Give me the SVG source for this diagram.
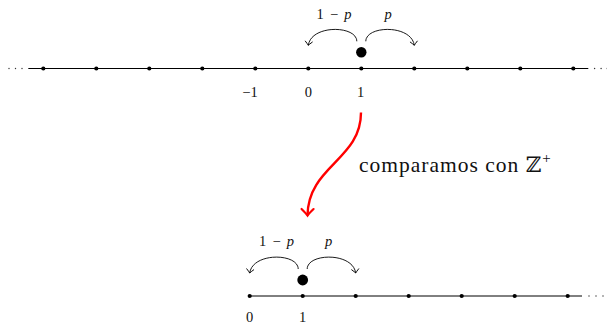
<svg xmlns="http://www.w3.org/2000/svg" width="607" height="324" viewBox="0 0 607 324">
<style>
  .axis { stroke: #000; stroke-width: 1; fill: none; }
  .pt { fill: #000; }
  .ell { fill: #333; }
  .num { font-family: "Liberation Serif", "DejaVu Serif", serif; font-size: 14.5px; fill: #111; text-anchor: middle; }
  .prob { font-family: "Liberation Serif", "DejaVu Serif", serif; font-size: 14.5px; fill: #111; text-anchor: middle; }
  .it { font-style: italic; }
  .jump { stroke: #000; stroke-width: 0.9; fill: none; marker-end: url(#to); }
  .red { stroke: #ff0000; stroke-width: 2.4; fill: none; marker-end: url(#tored); }
  .cap { font-family: "Liberation Serif", "DejaVu Serif", serif; font-size: 21.5px; letter-spacing: 1px; fill: #111; }
</style>
<defs>
  <marker id="to" markerUnits="userSpaceOnUse" markerWidth="12" markerHeight="12" viewBox="-6 -6 12 12" refX="0" refY="0" orient="auto">
    <path d="M-4,-3.8 Q-1.2,-0.9 0,0 Q-1.2,0.9 -4,3.8" fill="none" stroke="#000" stroke-width="0.9"/>
  </marker>
  <marker id="tored" markerUnits="userSpaceOnUse" markerWidth="16" markerHeight="16" viewBox="-8 -8 16 16" refX="0" refY="0" orient="auto">
    <path d="M-6.5,-6 Q-2,-1.4 0,0 Q-2,1.4 -6.5,6" fill="none" stroke="#ff0000" stroke-width="2.2" stroke-linecap="round"/>
  </marker>
</defs>

<g id="top-line">
  <line class="axis" x1="28.3" y1="68.5" x2="588.3" y2="68.5"/>
  <circle class="ell" cx="9" cy="68.5" r="0.7"/>
  <circle class="ell" cx="15.5" cy="68.5" r="0.7"/>
  <circle class="ell" cx="22" cy="68.5" r="0.7"/>
  <circle class="ell" cx="594.6" cy="68.5" r="0.7"/>
  <circle class="ell" cx="601.1" cy="68.5" r="0.7"/>
  <circle class="ell" cx="607.3" cy="68.5" r="0.7"/>
  <circle class="pt" cx="43.3" cy="68.5" r="2.1"/>
  <circle class="pt" cx="96.3" cy="68.5" r="2.1"/>
  <circle class="pt" cx="149.3" cy="68.5" r="2.1"/>
  <circle class="pt" cx="202.3" cy="68.5" r="2.1"/>
  <circle class="pt" cx="255.3" cy="68.5" r="2.1"/>
  <circle class="pt" cx="308.3" cy="68.5" r="2.1"/>
  <circle class="pt" cx="361.3" cy="68.5" r="2.1"/>
  <circle class="pt" cx="414.3" cy="68.5" r="2.1"/>
  <circle class="pt" cx="467.3" cy="68.5" r="2.1"/>
  <circle class="pt" cx="520.3" cy="68.5" r="2.1"/>
  <circle class="pt" cx="573.3" cy="68.5" r="2.1"/>
  <text class="num" x="250" y="96.5">−1</text>
  <text class="num" x="308.3" y="96.5">0</text>
  <text class="num" x="360.5" y="96.5">1</text>
</g>

<g id="top-walker">
  <circle class="pt" cx="361.3" cy="52.3" r="5.2"/>
  <text class="prob" x="334" y="18.5" textLength="35" lengthAdjust="spacing">1 − <tspan class="it">p</tspan></text>
  <text class="prob it" x="388" y="18.5">p</text>
</g>

<g id="bottom-line">
  <line class="axis" x1="249.7" y1="296" x2="582" y2="296"/>
  <circle class="ell" cx="589" cy="296" r="0.7"/>
  <circle class="ell" cx="596" cy="296" r="0.7"/>
  <circle class="ell" cx="603" cy="296" r="0.7"/>
  <circle class="pt" cx="249.7" cy="296" r="2.1"/>
  <circle class="pt" cx="302.7" cy="296" r="2.1"/>
  <circle class="pt" cx="355.7" cy="296" r="2.1"/>
  <circle class="pt" cx="408.7" cy="296" r="2.1"/>
  <circle class="pt" cx="461.7" cy="296" r="2.1"/>
  <circle class="pt" cx="514.7" cy="296" r="2.1"/>
  <circle class="pt" cx="567.7" cy="296" r="2.1"/>
  <text class="num" x="249.5" y="322">0</text>
  <text class="num" x="302.5" y="322">1</text>
</g>

<g id="bottom-walker">
  <circle class="pt" cx="302.7" cy="280" r="5.4"/>
  <text class="prob" x="276.5" y="245.5" textLength="35" lengthAdjust="spacing">1 − <tspan class="it">p</tspan></text>
  <text class="prob it" x="328.5" y="245.5">p</text>
</g>

<g id="caption">
  <text class="cap" x="359" y="172">comparamos con ℤ<tspan font-size="15" dy="-9">+</tspan></text>
</g>

<g id="connectors">
  <path class="jump" d="M356.8,41.3 C356.8,25.3 311.3,24.3 308.3,45.3"/>
  <path class="jump" d="M365.8,41.3 C365.8,25.3 411.3,24.3 414.3,45.3"/>
  <path class="jump" d="M298.2,269 C298.2,253 252.7,252 249.7,273"/>
  <path class="jump" d="M307.2,269 C307.2,253 352.7,252 355.7,273"/>
  <path class="red" d="M361,112.5 C361,160 308,166 307.5,215.5"/>
</g>
</svg>
